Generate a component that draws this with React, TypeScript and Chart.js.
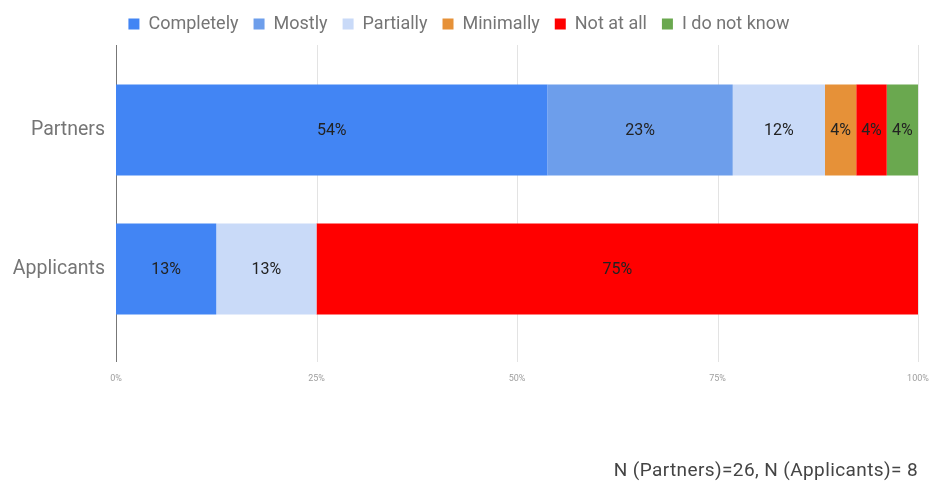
import React, { useEffect, useRef } from "react";
import { Chart, registerables } from "chart.js";

Chart.register(...registerables);

const categories = ["Partners", "Applicants"];
const seriesNames = ["Completely", "Mostly", "Partially", "Minimally", "Not at all", "I do not know"];
const seriesColors = ["#4285F4", "#6D9EEB", "#C9DAF8", "#E69138", "#FF0000", "#6AA84F"];
const partnersValues = [53.8, 23.1, 11.5, 3.9, 3.8, 3.9];
const applicantsValues = [12.5, 0, 12.5, 0, 75, 0];
const xTicks = [0, 25, 50, 75, 100];
const footnote = "N (Partners)=26, N (Applicants)= 8";

const FONT = "Roboto, 'Noto Sans', Arial, sans-serif";

export default function App() {
  const canvasRef = useRef<HTMLCanvasElement | null>(null);

  useEffect(() => {
    if (!canvasRef.current) return;

    const legendHeightPlugin = {
      id: "legendHeight",
      beforeLayout(chart: any) {
        const lg = chart.legend;
        if (lg && !lg._patched) {
          const orig = lg.fit.bind(lg);
          lg.fit = function () {
            orig();
            this.height = 60.5;
          };
          lg._patched = true;
        }
      },
    };

    const gridPlugin = {
      id: "customGrid",
      beforeDatasetsDraw(chart: any) {
        const ctx = chart.ctx;
        const xs = chart.scales.x;
        ctx.save();
        xs.ticks.forEach((t: any) => {
          const px = Math.round(xs.getPixelForValue(t.value)) + 0.5;
          ctx.beginPath();
          ctx.strokeStyle = t.value === 0 ? "#777777" : "#e3e3e3";
          ctx.lineWidth = 1;
          ctx.moveTo(px, 45);
          ctx.lineTo(px, 362);
          ctx.stroke();
        });
        ctx.restore();
      },
    };

    const labelPlugin = {
      id: "barLabels",
      afterDatasetsDraw(chart: any) {
        const ctx = chart.ctx;
        ctx.save();
        ctx.font = `16px ${FONT}`;
        ctx.fillStyle = "#222222";
        ctx.textAlign = "center";
        ctx.textBaseline = "middle";
        chart.data.datasets.forEach((ds: any, di: number) => {
          const meta = chart.getDatasetMeta(di);
          meta.data.forEach((el: any, i: number) => {
            const v = ds.data[i];
            if (!v) return;
            const cx = (el.x + el.base) / 2;
            ctx.fillText(Math.round(v) + "%", cx, el.y + 1);
          });
        });
        ctx.restore();
      },
    };

    const chart = new Chart(canvasRef.current, {
      type: "bar",
      data: {
        labels: categories,
        datasets: seriesNames.map((name, i) => ({
          label: name,
          data: [partnersValues[i], applicantsValues[i]],
          backgroundColor: seriesColors[i],
          borderWidth: 0,
          categoryPercentage: 1,
          barPercentage: 0.655,
        })),
      },
      options: {
        indexAxis: "y",
        animation: false,
        responsive: false,
        maintainAspectRatio: false,
        layout: { padding: { left: 0, right: 14, top: 0, bottom: 0 } },
        plugins: {
          legend: {
            position: "top",
            align: "center",
            labels: {
              boxWidth: 11,
              boxHeight: 11,
              padding: 15,
              color: "#757575",
              font: { family: FONT, size: 18 },
            },
          },
          tooltip: { enabled: false },
        },
        scales: {
          x: {
            stacked: true,
            min: 0,
            max: 100,
            afterBuildTicks(scale: any) {
              scale.ticks = xTicks.map((v) => ({ value: v }));
            },
            afterFit(scale: any) {
              scale.height = 144.5;
              scale.paddingLeft = 0;
              scale.paddingRight = 0;
            },
            grid: { display: false, drawTicks: false },
            border: { display: false },
            ticks: {
              padding: 35,
              color: "#9e9e9e",
              font: { family: FONT, size: 9 },
              callback: (v: any) => v + "%",
              maxRotation: 0,
            },
          },
          y: {
            stacked: true,
            afterFit(scale: any) {
              scale.width = 116;
            },
            grid: { display: false, drawTicks: false },
            border: { display: false },
            ticks: {
              padding: 11,
              color: "#757575",
              font: { family: FONT, size: 19.5 },
            },
          },
        },
      },
      plugins: [legendHeightPlugin, gridPlugin, labelPlugin],
    } as any);

    return () => {
      chart.destroy();
    };
  }, []);

  return (
    <div style={{ position: "absolute", left: 0, top: 0, width: 932, height: 483, background: "#ffffff" }}>
      <canvas ref={canvasRef} width={932} height={483} style={{ display: "block" }} />
      <div
        style={{
          position: "absolute",
          right: 14,
          top: 458,
          lineHeight: "24px",
          fontFamily: FONT,
          fontSize: 19,
          letterSpacing: "0.4px",
          color: "#444444",
          whiteSpace: "nowrap",
        }}
      >
        {footnote}
      </div>
    </div>
  );
}
